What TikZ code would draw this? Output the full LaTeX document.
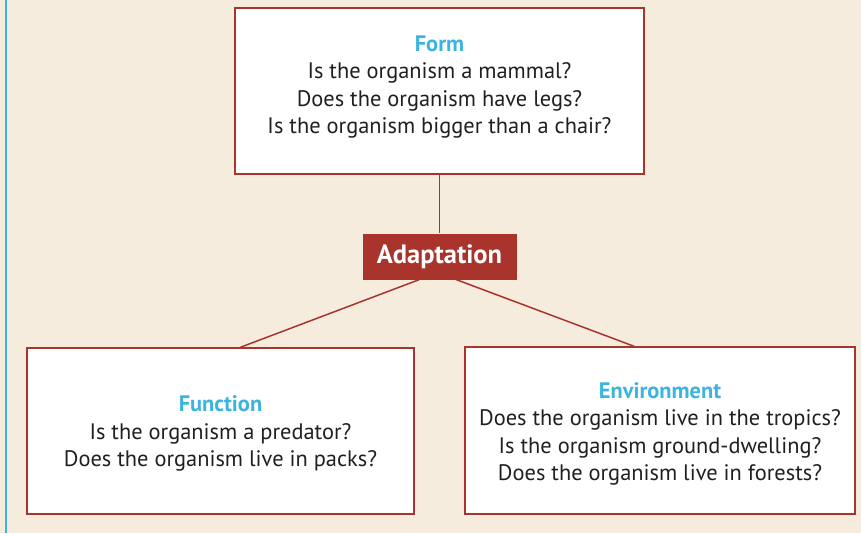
\documentclass[tikz,border=0pt]{standalone}
\usepackage{fontspec}
\setmainfont{PT Sans}
\definecolor{paper}{HTML}{F6ECDE}
\definecolor{rust}{HTML}{A8342B}
\definecolor{sky}{HTML}{3BB5E0}
\definecolor{ink}{HTML}{231F20}
\tikzset{
  qbox/.style={draw=rust, line width=1.5pt, fill=white, inner sep=0pt},
  qtext/.style={align=center, text=ink, font=\fontsize{22.4}{27.5}\selectfont, inner sep=0pt},
  hub/.style={fill=rust, text=white, minimum width=154pt, minimum height=46pt,
    font=\fontsize{26.5}{30}\selectfont\bfseries, inner sep=0pt},
  link/.style={draw=rust, line width=1.5pt},
}
\newcommand{\qtitle}[1]{{\color{sky}\bfseries #1}}
\begin{document}
\begin{tikzpicture}[x=1pt,y=-1pt]
            \useasboundingbox[fill=paper] (0,0) rectangle (861,533);
            \draw[sky, line width=2.5pt] (6,0) -- (6,533);
            \node[qbox, minimum width=409pt, minimum height=166pt] (form) at (439.5,91) {};
            \node[qtext] (formtext) at (439.5,87)
              {\qtitle{Form}\\Is the organism a mammal?\\Does the organism have legs?\\Is the organism bigger than a chair?};
            \node[hub] (adapt) at (439.5,256.5) {Adaptation};
            \node[qbox, minimum width=387pt, minimum height=166pt] (func) at (220.5,431) {};
            \node[qtext] (functext) at (220.5,433.5)
              {\qtitle{Function}\\Is the organism a predator?\\Does the organism live in packs?};
            \node[qbox, minimum width=390pt, minimum height=167pt] (env) at (660,430.5) {};
            \node[qtext] (envtext) at (660,434)
              {\qtitle{Environment}\\Does the organism live in the tropics?\\Is the organism ground-dwelling?\\Does the organism live in forests?};
            \draw[link] (form.south) -- (adapt.north);
            \draw[link] ([xshift=-20.5pt]adapt.south) -- ([xshift=20pt]func.north);
            \draw[link] ([xshift=17pt]adapt.south) -- ([xshift=-26pt]env.north);
        \end{tikzpicture}
\end{document}
